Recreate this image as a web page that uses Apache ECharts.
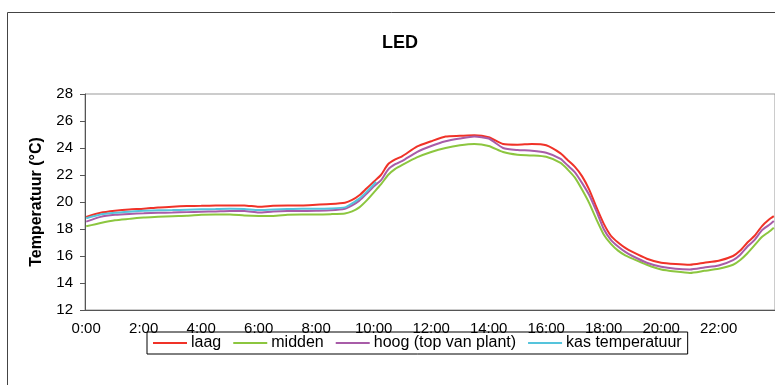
<!DOCTYPE html>
<html>
<head>
<meta charset="utf-8">
<script src="https://cdn.jsdelivr.net/npm/echarts@6/dist/echarts.min.js"></script>
<style>
  html, body { margin: 0; padding: 0; background: #fff; }
  #chart { width: 775px; height: 385px; }
</style>
</head>
<body>
<div id="chart"></div>
<script>
// Temperature over one day (5-minute slots), LED compartment.
const chartTitle = 'LED';
const yAxisName = 'Temperatuur (°C)';
const seriesNames = ['laag', 'midden', 'hoog (top van plant)', 'kas temperatuur'];
const seriesColors = ['#f03228', '#8cc63f', '#a85ca8', '#55c4dc'];

// Sample moments (h:mm) at which the curves were read.
const sampleTimes = [
  '0:00', '0:30', '1:00', '1:30', '2:00', '2:30', '3:00', '3:30', '4:00', '4:30',
  '5:00', '5:30', '6:00', '6:30', '7:00', '7:30', '8:00', '8:30', '9:00', '9:15',
  '9:30', '9:45', '10:00', '10:15', '10:30', '10:45', '11:00', '11:30', '12:00', '12:30',
  '13:00', '13:30', '14:00', '14:30', '15:00', '15:30', '16:00', '16:30', '16:45', '17:00',
  '17:15', '17:30', '17:45', '18:00', '18:15', '18:30', '18:45', '19:00', '19:30', '20:00',
  '20:30', '21:00', '21:30', '22:00', '22:30', '22:45', '23:00', '23:15', '23:30', '23:45',
  '23:55'
];

const laag = [
  18.9, 19.2, 19.35, 19.45, 19.5, 19.6, 19.65, 19.7, 19.72, 19.75,
  19.75, 19.75, 19.65, 19.72, 19.75, 19.75, 19.8, 19.85, 19.95, 20.15,
  20.5, 21.0, 21.5, 22.0, 22.8, 23.15, 23.4, 24.1, 24.5, 24.85,
  24.9, 24.95, 24.8, 24.3, 24.25, 24.3, 24.2, 23.6, 23.1, 22.6,
  21.9, 20.9, 19.6, 18.4, 17.5, 17.0, 16.6, 16.3, 15.8, 15.5,
  15.4, 15.35, 15.5, 15.65, 16.0, 16.4, 17.0, 17.5, 18.2, 18.7,
  18.95
];

const midden = [
  18.2, 18.45, 18.65, 18.75, 18.85, 18.9, 18.95, 18.98, 19.05, 19.08,
  19.08, 19.0, 18.97, 18.97, 19.05, 19.08, 19.08, 19.1, 19.15, 19.3,
  19.6, 20.1, 20.7, 21.3, 22.0, 22.45, 22.75, 23.3, 23.7, 24.0,
  24.2, 24.3, 24.15, 23.7, 23.5, 23.45, 23.35, 22.9, 22.4, 21.8,
  20.9, 19.9, 18.7, 17.6, 16.9, 16.4, 16.05, 15.8, 15.35, 15.0,
  14.85, 14.75, 14.9, 15.05, 15.35, 15.7, 16.2, 16.8, 17.4, 17.8,
  18.1
];

const hoog = [
  18.55, 18.9, 19.05, 19.12, 19.16, 19.2, 19.22, 19.25, 19.28, 19.3,
  19.33, 19.33, 19.22, 19.3, 19.33, 19.33, 19.35, 19.38, 19.5, 19.75,
  20.1, 20.6, 21.15, 21.6, 22.4, 22.8, 23.05, 23.7, 24.15, 24.5,
  24.7, 24.85, 24.7, 24.0, 23.85, 23.8, 23.65, 23.2, 22.7, 22.2,
  21.4, 20.5, 19.3, 18.0, 17.2, 16.7, 16.3, 16.0, 15.5, 15.2,
  15.05, 15.0, 15.15, 15.3, 15.7, 16.1, 16.7, 17.2, 17.9, 18.3,
  18.6
];

// Greenhouse temperature is only logged until 10:05.
const kasTimes = [
  '0:00', '0:30', '1:00', '1:30', '2:00', '2:30', '3:00', '3:30', '4:00', '4:30',
  '5:00', '5:30', '6:00', '6:30', '7:00', '7:30', '8:00', '8:30', '9:00', '9:15',
  '9:30', '9:45', '10:00', '10:05'
];
const kas = [
  18.8, 19.08, 19.2, 19.28, 19.35, 19.38, 19.4, 19.43, 19.46, 19.48,
  19.5, 19.48, 19.4, 19.45, 19.48, 19.5, 19.5, 19.52, 19.6, 19.9,
  20.25, 20.75, 21.3, 21.5
];

const yMin = 12, yMax = 28, yStep = 2;

// One category per 5 minutes over the whole day.
const slotMinutes = 5;
const categories = [];
for (let m = 0; m < 24 * 60; m += slotMinutes) {
  categories.push(Math.floor(m / 60) + ':' + String(m % 60).padStart(2, '0'));
}
function slotIndex(t) {
  const [h, mm] = t.split(':').map(Number);
  return (h * 60 + mm) / slotMinutes;
}
function pairs(times, values) {
  return times.map((t, i) => [slotIndex(t), values[i]]);
}

const seriesData = [
  pairs(sampleTimes, laag),
  pairs(sampleTimes, midden),
  pairs(sampleTimes, hoog),
  pairs(kasTimes, kas)
];

const font = "'Liberation Sans', Arial, sans-serif";
const chart = echarts.init(document.getElementById('chart'), null, { renderer: 'canvas' });

chart.setOption({
  backgroundColor: '#ffffff',
  animation: false,
  textStyle: { fontFamily: font },
  title: {
    text: chartTitle,
    left: 377,
    top: 29,
    textStyle: { fontFamily: font, fontSize: 18, fontWeight: 'bold', color: '#000' }
  },
  graphic: [{
    type: 'rect',
    shape: { x: 7.5, y: 12.5, width: 800, height: 400 },
    style: { fill: 'none', stroke: '#444', lineWidth: 1 },
    silent: true,
    z: -1
  }],
  grid: {
    left: 85, top: 94, width: 692, height: 216,
    show: true, borderColor: '#999', borderWidth: 1, backgroundColor: 'transparent'
  },
  legend: {
    data: seriesNames,
    left: 147, top: 332,
    icon: 'rect', itemWidth: 34, itemHeight: 2, itemGap: 12,
    padding: [3, 6, 3, 6],
    borderColor: '#000', borderWidth: 1,
    textStyle: { fontFamily: font, fontSize: 16, color: '#000', padding: [0, 0, 0, -1] }
  },
  xAxis: {
    type: 'category',
    data: categories,
    boundaryGap: true,
    axisLine: { lineStyle: { color: '#555', width: 1 } },
    axisTick: { interval: 12, length: 5, lineStyle: { color: '#555' } },
    axisLabel: { interval: 23, margin: 11, fontSize: 15, color: '#000', fontFamily: font }
  },
  yAxis: {
    type: 'value',
    min: yMin, max: yMax, interval: yStep,
    name: yAxisName,
    nameLocation: 'middle',
    nameGap: 40,
    nameTextStyle: { fontFamily: font, fontSize: 16, fontWeight: 'bold', color: '#000' },
    axisLine: { show: true, lineStyle: { color: '#555', width: 1 } },
    axisTick: { show: true, length: 5, lineStyle: { color: '#555' } },
    axisLabel: { margin: 12, fontSize: 15, color: '#000', fontFamily: font },
    splitLine: { show: false }
  },
  series: seriesNames.map((name, i) => ({
    name: name,
    type: 'line',
    data: seriesData[i],
    showSymbol: false,
    smooth: 0.2,
    lineStyle: { width: 2, color: seriesColors[i] },
    itemStyle: { color: seriesColors[i] },
    z: 2 + i
  }))
});
</script>
</body>
</html>
